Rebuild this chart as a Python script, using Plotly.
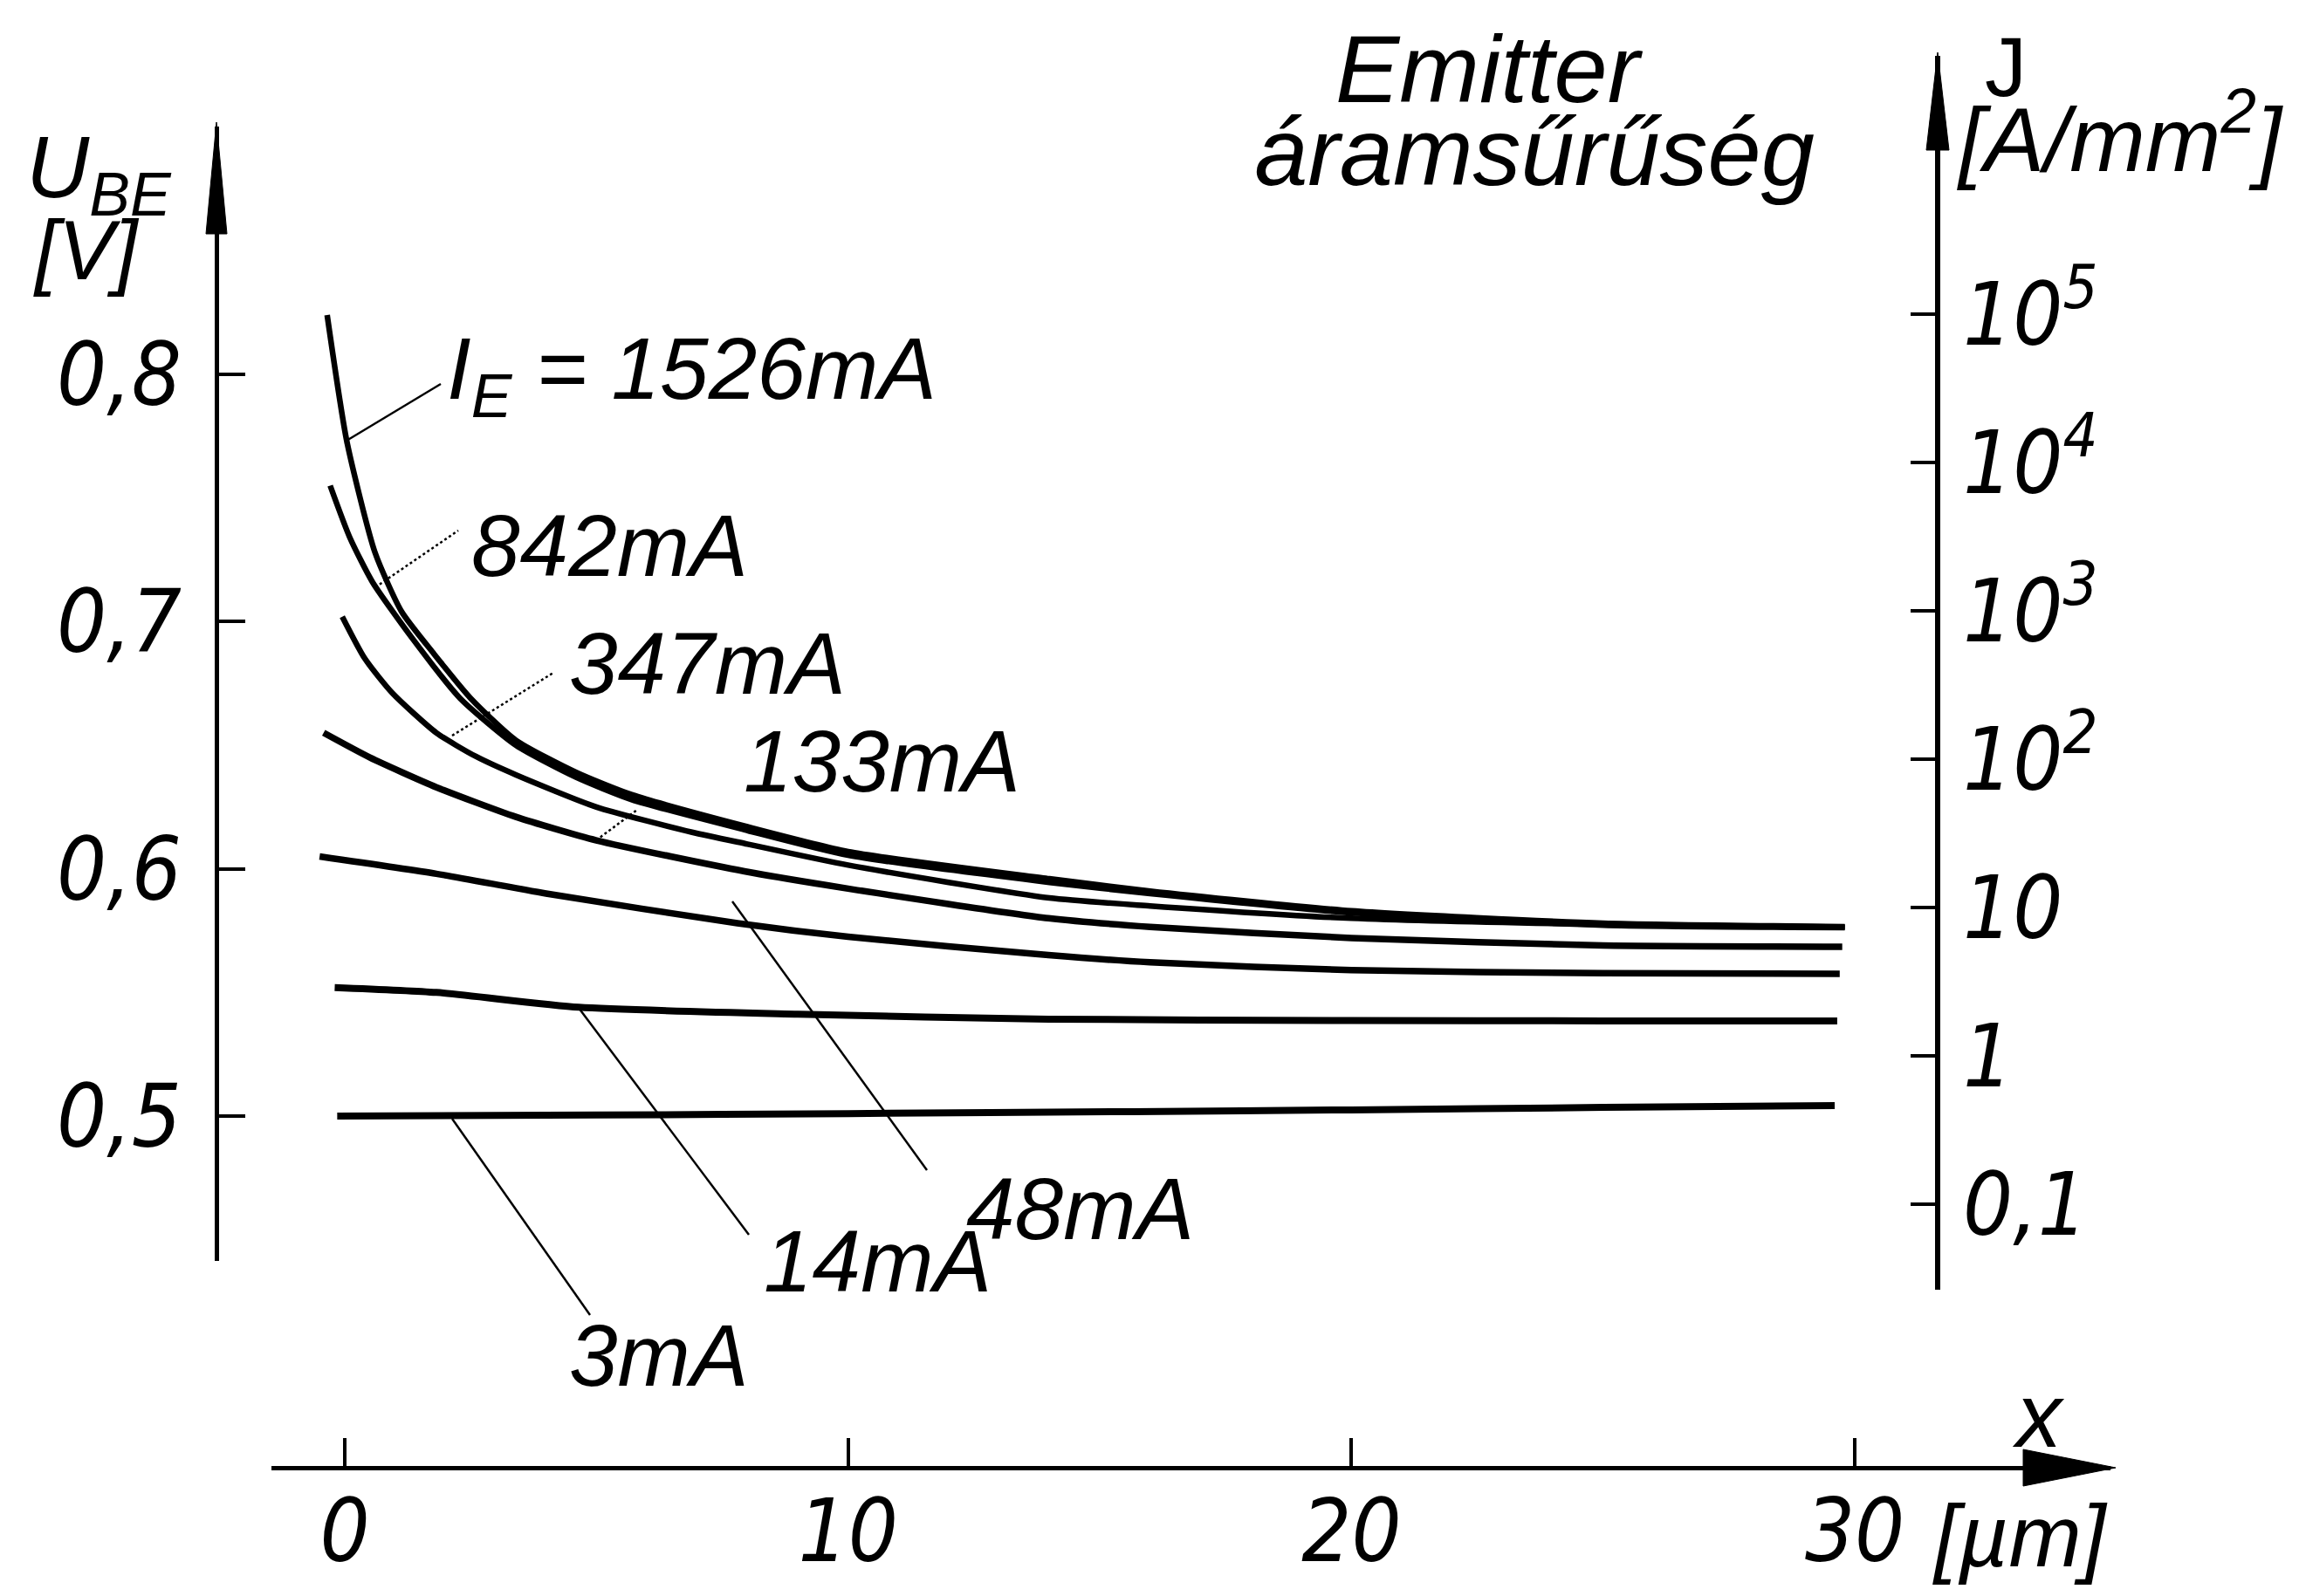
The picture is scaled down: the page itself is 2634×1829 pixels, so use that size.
import plotly.graph_objects as go

W, H = 2634, 1829

# ---------------- data ----------------
labels = ["I<sub>E</sub> = 1526mA", "842mA", "347mA", "133mA", "48mA", "14mA", "3mA"]

x_1526 = [-0.35, 0.04, 0.6, 1.13, 1.77, 2.5, 3.4, 4.6, 5.7, 8, 10, 14, 16, 20, 25, 29.8]
u_1526 = [0.824, 0.773, 0.728, 0.704, 0.687, 0.669, 0.652, 0.639, 0.630, 0.617, 0.607, 0.596, 0.591, 0.583, 0.578, 0.5766]

x_842 = [-0.29, 0.1, 0.55, 1.35, 2.29, 3.4, 4.6, 5.7, 8, 10, 14, 16, 20, 25, 29.8]
u_842 = [0.755, 0.734, 0.716, 0.693, 0.669, 0.650, 0.637, 0.628, 0.6155, 0.6055, 0.5945, 0.590, 0.5822, 0.5772, 0.5762]

x_347 = [-0.05, 0.4, 0.95, 1.82, 2.6, 3.4, 5.0, 6.9, 8, 10, 14, 16, 20, 25, 29.8]
u_347 = [0.702, 0.685, 0.671, 0.655, 0.6455, 0.638, 0.625, 0.6148, 0.6100, 0.6015, 0.5882, 0.585, 0.580, 0.5775, 0.5764]

x_133 = [-0.42, 0.5, 1.82, 3.4, 5.0, 7.94, 10, 13.98, 16, 20, 25, 29.75]
u_133 = [0.655, 0.645, 0.633, 0.621, 0.6115, 0.599, 0.592, 0.580, 0.5765, 0.572, 0.569, 0.5685]

x_48 = [-0.5, 1.82, 4.0, 7.8, 10, 13.98, 16, 20, 25, 29.7]
u_48 = [0.605, 0.598, 0.590, 0.578, 0.5725, 0.5651, 0.5622, 0.559, 0.5578, 0.5575]

x_14 = [-0.2, 1.82, 4.65, 9, 13.98, 20, 25, 29.65]
u_14 = [0.552, 0.550, 0.5440, 0.5412, 0.5392, 0.5386, 0.5385, 0.5385]

x_3 = [-0.15, 5, 10, 15.65, 20, 25, 29.6]
u_3 = [0.5000, 0.5004, 0.5010, 0.5018, 0.5025, 0.5035, 0.5042]

x_ticks = [0, 10, 20, 30]
x_ticktext = ["0", "10", "20", "30"]
u_ticks = [0.5, 0.6, 0.7, 0.8]
u_ticktext = ["0,5", "0,6", "0,7", "0,8"]
j_ticks = [0.1, 1, 10, 100, 1e3, 1e4, 1e5]
j_ticktext = ["0,1", "1", "10", "10<sup>2</sup>", "10<sup>3</sup>", "10<sup>4</sup>", "10<sup>5</sup>"]

series_x = [x_1526, x_842, x_347, x_133, x_48, x_14, x_3]
series_u = [u_1526, u_842, u_347, u_133, u_48, u_14, u_3]

# ---------------- layout helpers (pixel -> paper) ----------------
def px(v):
    return v / W


def py(v):
    return 1 - v / H


X0_PX, PX_PER_UM = 395.0, 57.67
U08_PX, PX_PER_V = 429.0, 2833.3
J1E5_PX, PX_PER_DEC = 360.0, 170.0

XAXIS_Y = 1682
YAXIS_X = 248
Y2AXIS_X = 2220


def x_of(p):
    return (p - X0_PX) / PX_PER_UM


def u_of(p):
    return 0.8 - (p - U08_PX) / PX_PER_V


def logj_of(p):
    return 5 - (p - J1E5_PX) / PX_PER_DEC


FONT = "Liberation Sans, Arial, sans-serif"
TICKFONT = "Liberation Sans Narrow, DejaVu Sans Condensed, Liberation Sans, sans-serif"

fig = go.Figure()

widths = [6.5, 6.5, 6.5, 7.5, 7.5, 8, 8]
for xs, us, wdt in zip(series_x, series_u, widths):
    fig.add_trace(go.Scatter(
        x=xs, y=us, mode="lines",
        line=dict(color="black", width=wdt, shape="spline", smoothing=0.6),
        showlegend=False, hoverinfo="skip"))

# dummy trace so the log axis is drawn
fig.add_trace(go.Scatter(x=[None], y=[None], yaxis="y2", showlegend=False, hoverinfo="skip"))

tickfont = dict(family=TICKFONT, size=100, color="black", style="italic")

fig.update_layout(
    width=W, height=H,
    autosize=False,
    margin=dict(l=0, r=0, t=0, b=0, pad=0, autoexpand=False),
    paper_bgcolor="white", plot_bgcolor="rgba(0,0,0,0)",
    showlegend=False,
    xaxis=dict(
        domain=[px(311), px(2418)],
        range=[x_of(311), x_of(2418)],
        anchor="free", position=py(XAXIS_Y), automargin=False,
        showline=True, linewidth=5, linecolor="black",
        ticks="inside", ticklen=32, tickwidth=4, tickcolor="black",
        tickvals=x_ticks, ticktext=x_ticktext,
        tickfont=tickfont, ticklabelstandoff=-16,
        showgrid=False, zeroline=False,
    ),
    yaxis=dict(
        domain=[py(1445), py(145)],
        range=[u_of(1445), u_of(145)],
        anchor="free", position=px(YAXIS_X), automargin=False,
        showline=True, linewidth=5, linecolor="black",
        ticks="inside", ticklen=30, tickwidth=4, tickcolor="black",
        tickvals=u_ticks, ticktext=u_ticktext,
        tickfont=tickfont, ticklabelstandoff=18,
        showgrid=False, zeroline=False,
    ),
    yaxis2=dict(
        type="log",
        domain=[py(1478), py(64)],
        range=[logj_of(1478), logj_of(64)],
        anchor="free", position=px(Y2AXIS_X), side="right", automargin=False,
        showline=True, linewidth=6, linecolor="black",
        ticks="inside", ticklen=28, tickwidth=4, tickcolor="black",
        tickvals=j_ticks, ticktext=j_ticktext,
        tickfont=tickfont, ticklabelstandoff=6,
        showgrid=False, zeroline=False,
    ),
)

shapes = []
# axis arrowheads
def tri(p0, p1, p2):
    return "M {},{} L {},{} L {},{} Z".format(px(p0[0]), py(p0[1]), px(p1[0]), py(p1[1]),
                                             px(p2[0]), py(p2[1]))


arrows = [
    tri((YAXIS_X, 140), (YAXIS_X - 12, 268), (YAXIS_X + 12, 268)),
    tri((Y2AXIS_X, 60), (Y2AXIS_X - 13, 172), (Y2AXIS_X + 13, 172)),
    tri((2424, XAXIS_Y), (2318, XAXIS_Y - 21), (2318, XAXIS_Y + 21)),
]
for p in arrows:
    shapes.append(dict(type="path", path=p, xref="paper", yref="paper",
                       fillcolor="black", line=dict(color="black", width=1)))

# leader lines from labels to curves
leaders = [
    ((397, 505), (505, 440), "solid"),
    ((430, 673), (525, 608), "dot"),
    ((518, 843), (634, 771), "dot"),
    ((683, 963), (730, 928), "dot"),
    ((839, 1033), (1062, 1341), "solid"),
    ((663, 1155), (858, 1415), "solid"),
    ((518, 1282), (676, 1507), "solid"),
]
for (a, b, dash) in leaders:
    shapes.append(dict(type="line", xref="paper", yref="paper",
                       x0=px(a[0]), y0=py(a[1]), x1=px(b[0]), y1=py(b[1]),
                       line=dict(color="black", width=2.5, dash=dash)))
fig.update_layout(shapes=shapes)


def note(text, left, cy, size=100, family=FONT, style="italic"):
    fig.add_annotation(text=text, x=px(left), y=py(cy), xref="paper", yref="paper",
                       xanchor="left", yanchor="middle", showarrow=False,
                       font=dict(family=family, size=size, color="black", style=style))


label_pos = [(510, 430), (538, 625), (650, 760), (850, 872), (1105, 1385), (873, 1445), (650, 1553)]
for t, (lx, cy) in zip(labels, label_pos):
    note(t, lx, cy, size=100)

note("U<sub>BE</sub>", 28, 198, size=100)
note("[V]", 36, 286, size=96)
note("J", 2272, 76, size=96, style="normal")
note("[A/mm<sup>2</sup>]", 2240, 152, size=104)
note("Emitter", 1528, 79, size=110)
note("áramsűrűség", 1435, 174, size=110)
note("x", 2303, 1622, size=104)
note("[µm]", 2212, 1760, size=100)

fig.write_html("out.html")
